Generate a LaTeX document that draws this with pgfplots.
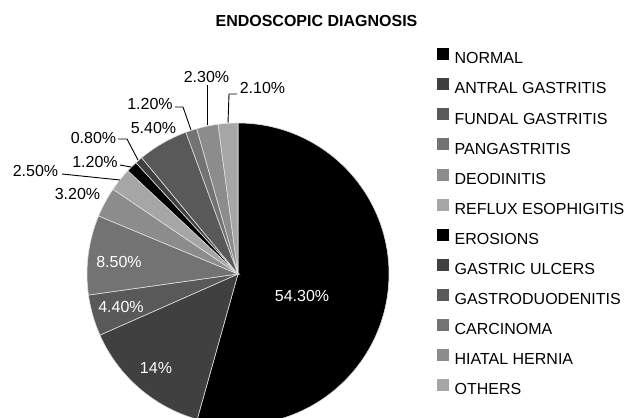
\documentclass[border=0pt]{standalone}
\usepackage{pgfplots}
\usepackage{pgfplotstable}
\pgfplotsset{compat=1.18}
\usepackage{fontspec}
\setmainfont{Liberation Sans}

\definecolor{pie0}{HTML}{000000}
\definecolor{pie1}{HTML}{404040}
\definecolor{pie2}{HTML}{595959}
\definecolor{pie3}{HTML}{737373}
\definecolor{pie4}{HTML}{8C8C8C}
\definecolor{pie5}{HTML}{A6A6A6}
\colorlet{pie6}{pie0}
\colorlet{pie7}{pie1}
\colorlet{pie8}{pie2}
\colorlet{pie9}{pie3}
\colorlet{pie10}{pie4}
\colorlet{pie11}{pie5}

% Endoscopic diagnosis (percent), clockwise from 12 o'clock
\pgfplotstableread[col sep=comma]{
label,val
NORMAL,54.3
ANTRAL GASTRITIS,14
FUNDAL GASTRITIS,4.4
PANGASTRITIS,8.5
DEODINITIS,3.2
REFLUX ESOPHIGITIS,2.5
EROSIONS,1.2
GASTRIC ULCERS,0.8
GASTRODUODENITIS,5.4
CARCINOMA,1.2
HIATAL HERNIA,2.3
OTHERS,2.1
}\piedata

% cumulative angles
\gdef\pietotal{0}
\pgfplotstableforeachcolumnelement{val}\of\piedata\as\pv{%
  \pgfmathparse{\pietotal+\pv}\xdef\pietotal{\pgfmathresult}}
\gdef\piecum{0}
\pgfplotstableforeachcolumnelement{val}\of\piedata\as\pv{%
  \pgfmathparse{\piecum/\pietotal*360}%
  \expandafter\xdef\csname pieA\pgfplotstablerow\endcsname{\pgfmathresult}%
  \pgfmathparse{(\piecum+\pv)/\pietotal*360}%
  \expandafter\xdef\csname pieB\pgfplotstablerow\endcsname{\pgfmathresult}%
  \pgfmathparse{\piecum+\pv}\xdef\piecum{\pgfmathresult}}

\newcommand\cx{238}
\newcommand\cy{144}
\newcommand\rr{151}

\begin{document}
\fontsize{16bp}{19bp}\selectfont
\begin{tikzpicture}
\useasboundingbox (0,0) rectangle (627bp,418bp);
\begin{axis}[
  at={(0,0)}, anchor=south west,
  x=1bp, y=1bp, xmin=0, xmax=627, ymin=0, ymax=418,
  hide axis, clip=false,
  legend style={draw=none, fill=none, inner sep=0pt,
    at={(0.69697,0.8852)}, anchor=north west,
    row sep=11.4bp, column sep=6bp,
    nodes={inner sep=0pt, text height=12bp, text depth=3bp},
    font=\fontsize{16bp}{19bp}\selectfont},
  legend cell align=left,
]
\pgfplotsinvokeforeach{0,...,11}{
  \fill[pie#1, draw=white!75!gray, line width=0.6bp]
    (axis cs:\cx,\cy) --
    (axis cs:{\cx+\rr*sin(\csname pieA#1\endcsname)},{\cy+\rr*cos(\csname pieA#1\endcsname)})
    arc[start angle={90-\csname pieA#1\endcsname}, end angle={90-\csname pieB#1\endcsname}, radius=151bp]
    -- cycle;
}
\pgfplotsinvokeforeach{0,...,11}{
  \addlegendimage{legend image code/.code={\fill[pie#1] (0bp,0bp) rectangle (11bp,11bp);}}
}
\legend{NORMAL,ANTRAL GASTRITIS,FUNDAL GASTRITIS,PANGASTRITIS,DEODINITIS,REFLUX ESOPHIGITIS,EROSIONS,GASTRIC ULCERS,GASTRODUODENITIS,CARCINOMA,HIATAL HERNIA,OTHERS}

% title
\node[anchor=base, font=\bfseries\fontsize{16bp}{19bp}\selectfont] at (axis cs:316.5,391) {ENDOSCOPIC DIAGNOSIS};

% inside labels
\begin{scope}[every node/.style={anchor=base, inner sep=0pt, text=white}]
\node at (axis cs:302,117) {54.30\%};
\node at (axis cs:156,45) {14\%};
\node at (axis cs:121,106) {4.40\%};
\node at (axis cs:119,151) {8.50\%};
\end{scope}

% outside labels
\begin{scope}[every node/.style={anchor=base, inner sep=0pt, text=black}]
\node at (axis cs:77.5,219) {3.20\%};
\node at (axis cs:35.5,242) {2.50\%};
\node at (axis cs:95,251) {1.20\%};
\node at (axis cs:93.5,275) {0.80\%};
\node at (axis cs:153.5,285) {5.40\%};
\node at (axis cs:150,309) {1.20\%};
\node at (axis cs:206.5,335.5) {2.30\%};
\node at (axis cs:262.5,325) {2.10\%};
\end{scope}

% leader lines
\begin{scope}[black, line width=0.9bp]
\draw (axis cs:62,244) -- (axis cs:120,238);
\draw (axis cs:120,253) -- (axis cs:131,251);
\draw (axis cs:118,279) -- (axis cs:127,279) -- (axis cs:138,258);
\draw (axis cs:175,311) -- (axis cs:183,311) -- (axis cs:191,288);
\draw (axis cs:207,333) -- (axis cs:207,293);
\draw (axis cs:237,324) -- (axis cs:229,324) -- (axis cs:228,295);
\end{scope}
\end{axis}
\end{tikzpicture}
\end{document}
